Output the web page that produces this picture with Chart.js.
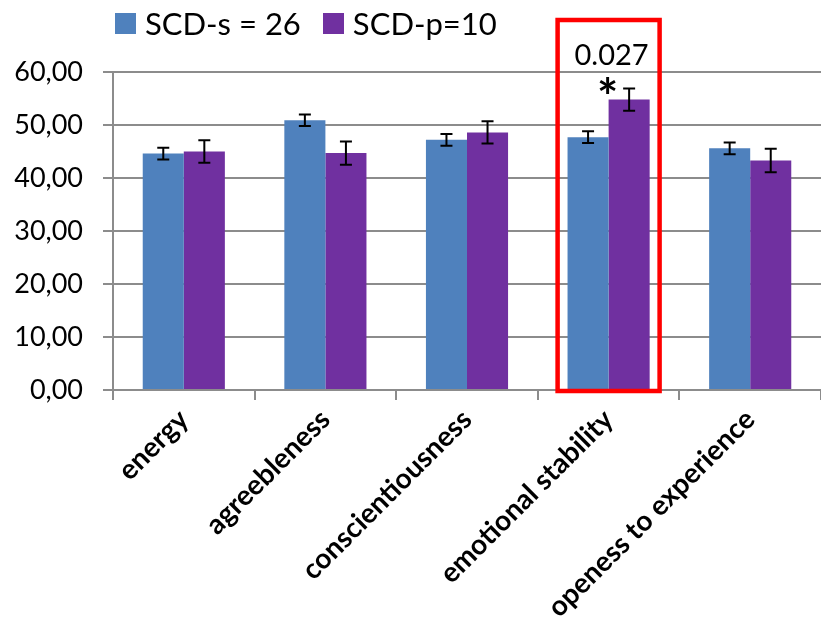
<!DOCTYPE html>
<html>
<head>
<meta charset="utf-8">
<script src="https://cdn.jsdelivr.net/npm/chart.js@4"></script>
<style>
  body { margin: 0; background: #fff; }
  #wrap { position: relative; width: 821px; height: 631px; }
  #legend { position: absolute; left: 115px; top: 4px; font-family: Lato, sans-serif; font-size: 31px; color: #000; display: flex; align-items: center; }
  #legend span.box { display: inline-block; width: 21px; height: 21px; margin-right: 9px; }
  #legend span.item { display: flex; align-items: center; margin-right: 22px; }
</style>
</head>
<body>
<div id="wrap">
  <canvas id="chart" width="821" height="631"></canvas>
  <div id="legend"></div>
</div>
<script>
// data
const categories = ["energy", "agreebleness", "conscientiousness", "emotional stability", "openess to experience"];
const seriesNames = ["SCD-s = 26", "SCD-p=10"];
const scdS = [44.6, 50.9, 47.2, 47.7, 45.6];
const scdP = [45.0, 44.7, 48.6, 54.8, 43.3];
const scdSErr = [1.1, 1.1, 1.1, 1.1, 1.1];
const scdPErr = [2.1, 2.2, 2.1, 2.1, 2.2];
const colors = ["#4F81BD", "#7030A0"];
const highlightIndex = 3;
const pValueText = "0.027";

// legend
const legend = document.getElementById("legend");
seriesNames.forEach((name, i) => {
  const item = document.createElement("span");
  item.className = "item";
  item.innerHTML = '<span class="box" style="background:' + colors[i] + '"></span>' + name;
  legend.appendChild(item);
});

const errorBars = {
  id: "errorBars",
  afterDatasetsDraw(chart) {
    const ctx = chart.ctx;
    const y = chart.scales.y;
    ctx.save();
    ctx.strokeStyle = "#000";
    ctx.lineWidth = 2;
    chart.data.datasets.forEach((ds, di) => {
      const meta = chart.getDatasetMeta(di);
      meta.data.forEach((bar, i) => {
        const v = ds.data[i], e = ds.errors[i];
        const top = y.getPixelForValue(v + e), bot = y.getPixelForValue(v - e);
        ctx.beginPath();
        ctx.moveTo(bar.x, top); ctx.lineTo(bar.x, bot);
        ctx.moveTo(bar.x - 6, top); ctx.lineTo(bar.x + 6, top);
        ctx.moveTo(bar.x - 6, bot); ctx.lineTo(bar.x + 6, bot);
        ctx.stroke();
      });
    });
    ctx.restore();
  }
};

const highlight = {
  id: "highlight",
  afterDraw(chart) {
    const ctx = chart.ctx;
    const x = chart.scales.x, y = chart.scales.y;
    const cx = x.getPixelForValue(highlightIndex);
    ctx.save();
    ctx.strokeStyle = "#FF0000";
    ctx.lineWidth = 4.5;
    ctx.strokeRect(cx - 51, 20, 102, y.getPixelForValue(0) - 19);
    ctx.fillStyle = "#000";
    ctx.textAlign = "center";
    ctx.textBaseline = "alphabetic";
    ctx.font = "29px Lato, sans-serif";
    ctx.fillText(pValueText, cx + 3, 65);
    ctx.font = "bold 50px Lato, sans-serif";
    ctx.fillText("*", cx - 1, 115);
    ctx.restore();
  }
};

new Chart(document.getElementById("chart"), {
  type: "bar",
  data: {
    labels: categories,
    datasets: [
      { label: seriesNames[0], data: scdS, errors: scdSErr, backgroundColor: colors[0] },
      { label: seriesNames[1], data: scdP, errors: scdPErr, backgroundColor: colors[1] }
    ]
  },
  options: {
    responsive: false,
    animation: false,
    layout: { padding: { top: 72, left: 0, right: 0, bottom: 0 } },
    datasets: { bar: { categoryPercentage: 0.58, barPercentage: 1 } },
    plugins: { legend: { display: false }, tooltip: { enabled: false } },
    scales: {
      x: {
        afterFit(scale) { scale.height = 241; },
        grid: { offset: true, drawOnChartArea: false, color: "#8C8C8C", lineWidth: 2, tickLength: 10 },
        border: { color: "#8C8C8C", width: 2 },
        ticks: { minRotation: 45, maxRotation: 45, color: "#000", font: { family: "Lato, sans-serif", size: 28, weight: "bold" } }
      },
      y: {
        min: 0, max: 60,
        afterFit(scale) { scale.width = 113; },
        grid: { color: "#8C8C8C", lineWidth: 2, tickLength: 10 },
        border: { color: "#8C8C8C", width: 2 },
        ticks: {
          stepSize: 10, color: "#000", padding: 20,
          font: { family: "Lato, sans-serif", size: 27 },
          callback: v => v.toFixed(2).replace(".", ",")
        }
      }
    }
  },
  plugins: [errorBars, highlight]
});
</script>
</body>
</html>
